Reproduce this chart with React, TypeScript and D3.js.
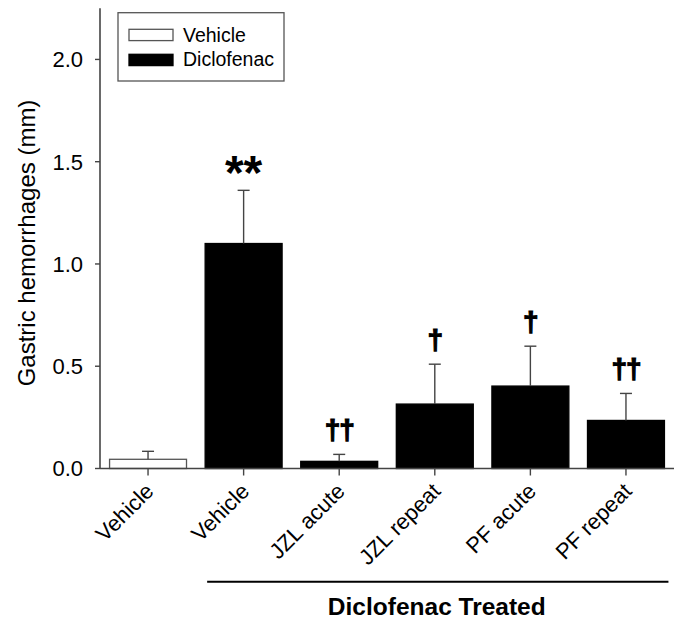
import React from "react";
import * as d3 from "d3";

const categories = ["Vehicle", "Vehicle", "JZL acute", "JZL repeat", "PF acute", "PF repeat"];
const treatment = ["Vehicle", "Diclofenac", "Diclofenac", "Diclofenac", "Diclofenac", "Diclofenac"];
const means = [0.045, 1.10, 0.035, 0.315, 0.403, 0.235];
const sems = [0.039, 0.26, 0.034, 0.195, 0.195, 0.132];
const marks = ["", "**", "††", "†", "†", "††"];
const yTicks = [0, 0.5, 1.0, 1.5, 2.0];
const legendItems = ["Vehicle", "Diclofenac"];

const W = 684;
const H = 621;
const FONT = "'Liberation Sans', Arial, Helvetica, sans-serif";

export default function App() {
  const x0 = 100, x1 = 674, yBase = 468.5, yTop = 8.3;
  const x = d3.scaleBand<number>().domain(d3.range(categories.length)).range([x0, x1]).paddingInner(0.195).paddingOuter(0.1);
  const y = d3.scaleLinear().domain([0, 2.25]).range([yBase, yTop]);
  const bw = x.bandwidth();
  const axisCol = "#444";
  const lastIdx = categories.length - 1;
  const gStart = x(1)!;
  const gEnd = x(lastIdx)! + bw + 4;

  return (
    <svg width={W} height={H} style={{ position: "absolute", left: 0, top: 0, background: "#fff" }} fontFamily={FONT}>
      {/* bars */}
      {means.map((m, i) => (
        <rect key={"b" + i} x={x(i)!} y={y(m)} width={bw} height={yBase - y(m)}
          fill={treatment[i] === "Vehicle" ? "#fff" : "#000"}
          stroke={treatment[i] === "Vehicle" ? "#555" : "#000"} strokeWidth={1.3} />
      ))}
      {/* error bars */}
      {means.map((m, i) => {
        const cx = x(i)! + bw / 2;
        const top = y(m + sems[i]);
        return (
          <g key={"e" + i} stroke={axisCol} strokeWidth={1.4}>
            <line x1={cx} x2={cx} y1={y(m)} y2={top} />
            <line x1={cx - 6} x2={cx + 6} y1={top} y2={top} />
          </g>
        );
      })}
      {/* significance marks */}
      {marks.map((s, i) => {
        if (!s) return null;
        const cx = x(i)! + bw / 2;
        const top = y(means[i] + sems[i]);
        const isStar = s.includes("*");
        return (
          <text key={"m" + i} x={cx} y={isStar ? top - 1 : top - 15} textAnchor="middle"
            fontWeight="bold" fontSize={isStar ? 48 : 28} fill="#000"
            stroke="#000" strokeWidth={isStar ? 0 : 1.2} letterSpacing={isStar ? 0 : -1}>{s}</text>
        );
      })}
      {/* axes */}
      <line x1={x0} x2={x0} y1={yTop} y2={yBase} stroke={axisCol} strokeWidth={1.6} />
      <line x1={x0} x2={x1} y1={yBase} y2={yBase} stroke={axisCol} strokeWidth={1.6} />
      {yTicks.map((t) => (
        <g key={"yt" + t}>
          <line x1={x0 - 5} x2={x0} y1={y(t)} y2={y(t)} stroke={axisCol} strokeWidth={1.4} />
          <text x={x0 - 17} y={y(t)} dy="0.36em" textAnchor="end" fontSize={22} fill="#000">{t.toFixed(1)}</text>
        </g>
      ))}
      {categories.map((c, i) => {
        const cx = x(i)! + bw / 2;
        return (
          <g key={"xt" + i}>
            <line x1={cx} x2={cx} y1={yBase} y2={yBase + 7} stroke={axisCol} strokeWidth={1.4} />
            <text transform={`translate(${cx + 7},${yBase + 24}) rotate(-45)`} textAnchor="end" fontSize={22} fill="#000">{c}</text>
          </g>
        );
      })}
      {/* y label */}
      <text transform={`translate(35,${243}) rotate(-90)`} textAnchor="middle" fontSize={24} fill="#000">
        Gastric hemorrhages (mm)
      </text>
      {/* group bracket */}
      <line x1={gStart + 2} x2={gEnd} y1={581.7} y2={581.7} stroke="#000" strokeWidth={2} />
      <text x={(gStart + gEnd) / 2} y={615} textAnchor="middle" fontWeight="bold" fontSize={24.5} fill="#000">
        Diclofenac Treated
      </text>
      {/* legend */}
      <rect x={118} y={12.7} width={166} height={68.3} fill="#fff" stroke="#555" strokeWidth={1.3} />
      {legendItems.map((l, i) => (
        <g key={"lg" + i}>
          <rect x={129} y={29.3 + i * 25} width={44} height={11.3}
            fill={i === 0 ? "#fff" : "#000"} stroke={i === 0 ? "#555" : "#000"} strokeWidth={1.3} />
          <text x={183} y={41.5 + i * 24} fontSize={19.5} fill="#000">{l}</text>
        </g>
      ))}
    </svg>
  );
}
